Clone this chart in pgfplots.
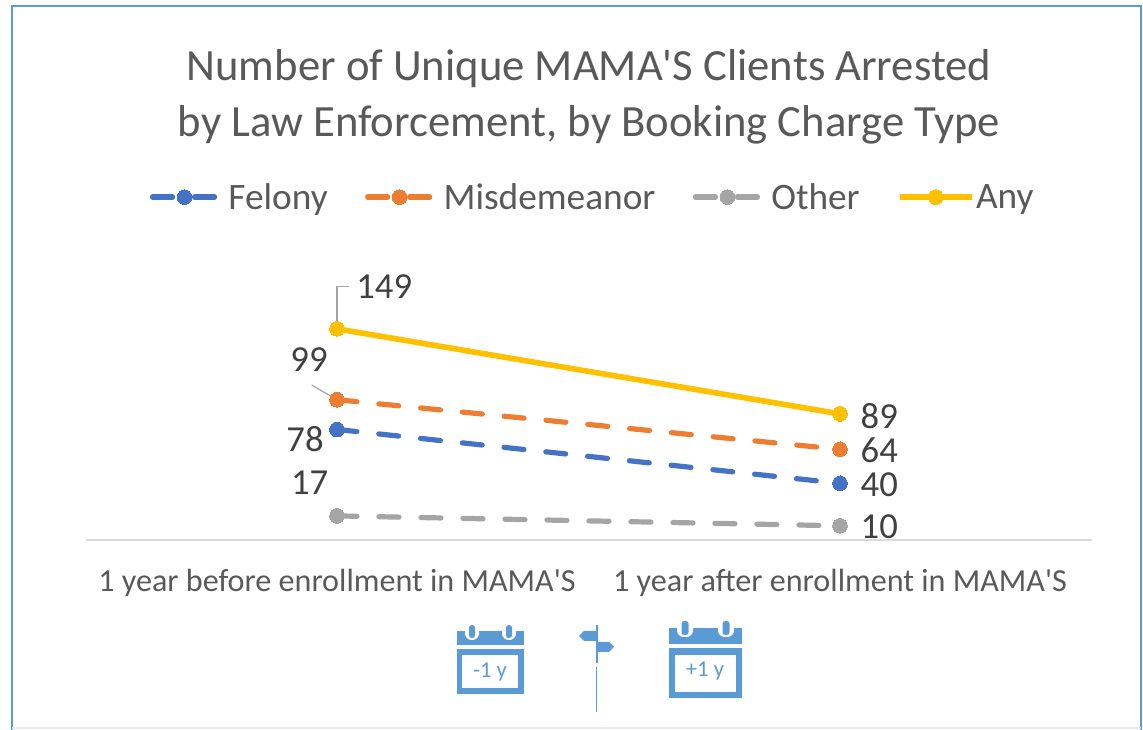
\documentclass[border=0pt]{standalone}
\usepackage{fontspec}
\setmainfont{Carlito}[Ligatures=TeXOff]
\usepackage{pgfplots}
\pgfplotsset{compat=1.18}
\definecolor{felony}{RGB}{68,114,196}
\definecolor{misd}{RGB}{237,125,49}
\definecolor{other}{RGB}{165,165,165}
\definecolor{anyc}{RGB}{255,192,0}
\definecolor{framec}{RGB}{91,155,213}
\definecolor{titlec}{RGB}{89,89,89}
\definecolor{labelc}{RGB}{64,64,64}
\pgfplotstableread{
x felony misd other any
0 78 99 17 149
1 40 64 10 89
}\mamatable
\pgfplotsset{
  dashline/.style={line width=3.9pt, line cap=round, dash pattern=on 15pt off 16.5pt},
  legend image code/.code={
    \draw[#1,mark=none] (0pt,0pt) -- (48pt,0pt);
    \draw[#1,solid] plot coordinates {(24pt,0pt)};
  },
  longimage/.style={
    legend image code/.code={
      \path (0pt,0pt) -- (48pt,0pt);
      \draw[##1,mark=none,overlay] (0pt,0pt) -- (54pt,0pt);
      \draw[##1,solid,overlay] plot coordinates {(27pt,0pt)};
    }
  }
}
\begin{document}
\begin{tikzpicture}[x=0.75pt,y=0.75pt]
\path[use as bounding box] (0,0) rectangle (1143,730);
\draw[framec,line width=2.2pt] (12,-10) -- (12,724) -- (1141,724) -- (1141,-10);
\draw[black!8,line width=0.8pt] (12,2) -- (1141,2);
\node[titlec,align=center,font=\fontsize{33.5pt}{41.5pt}\selectfont] at (589,633) {Number of Unique MAMA'S Clients Arrested\\by Law Enforcement, by Booking Charge Type};
\begin{axis}[
  at={(64.125pt,142.5pt)}, anchor=south west,
  scale only axis, width=754.5pt, height=212.55pt,
  xmin=-0.5, xmax=1.5, ymin=0, ymax=200,
  axis x line=bottom, axis y line=none,
  axis line style={draw=black!15,line width=0.9pt,-},
  xtick={0,1}, xticklabels={1 year before enrollment in MAMA'S,1 year after enrollment in MAMA'S},
  major tick length=0pt,
  xticklabel style={text=titlec,font=\fontsize{24.1pt}{28pt}\selectfont,yshift=-18.5pt},
  clip=false,
  legend columns=-1,
  legend style={at={(0.5045,1.21)},anchor=center,draw=none,fill=none,text=titlec,
    font=\fontsize{28pt}{32pt}\selectfont,
    /tikz/every even column/.append style={column sep=26pt},
    /tikz/every odd column/.append style={column sep=5pt}},
  mark size=5.5pt,
]
\draw[other,line width=0.9pt] (axis cs:0,149) -- ++(0pt,32pt) -- ++(9pt,0pt);
\draw[other,line width=0.9pt] (axis cs:0,99) -- ++(-19pt,11pt);
\addplot[felony,dashline,mark=*,mark options={solid,fill=felony,draw=felony,line width=0pt}] table[x=x,y=felony] {\mamatable};
\addlegendentry{Felony}
\addplot[misd,dashline,mark=*,mark options={solid,fill=misd,draw=misd,line width=0pt}] table[x=x,y=misd] {\mamatable};
\addlegendentry{Misdemeanor}
\addplot[other,dashline,mark=*,mark options={solid,fill=other,draw=other,line width=0pt}] table[x=x,y=other] {\mamatable};
\addlegendentry{Other}
\addplot[anyc,line width=4.2pt,mark=*,mark options={solid,fill=anyc,draw=anyc,line width=0pt},longimage] table[x=x,y=any] {\mamatable};
\addlegendentry{Any}
\begin{scope}[font=\fontsize{27.5pt}{32pt}\selectfont,text=labelc]
\node[anchor=west] at (axis cs:0,149) [yshift=32pt,xshift=11pt] {149};
\node[anchor=east] at (axis cs:0,99) [yshift=30pt,xshift=-3.5pt] {99};
\node[anchor=east] at (axis cs:0,78) [yshift=-7pt,xshift=-6.5pt] {78};
\node[anchor=east] at (axis cs:0,17) [yshift=25pt,xshift=-3pt] {17};
\node[anchor=west] at (axis cs:1,89) [yshift=-2pt,xshift=12pt] {89};
\node[anchor=west] at (axis cs:1,64) [yshift=-1pt,xshift=12pt] {64};
\node[anchor=west] at (axis cs:1,40) [yshift=-1pt,xshift=12pt] {40};
\node[anchor=west] at (axis cs:1,10) [yshift=-1pt,xshift=12pt] {10};
\end{scope}
\end{axis}
% icons
\begin{scope}[shift={(0,730)},y=-0.75pt]
\fill[framec] (457,631) rectangle (524,645);
\fill[framec] (457,649) rectangle (524,694);
\fill[white] (462,655) rectangle (518,688);
\foreach \cx in {472,509}{
  \fill[white,rounded corners=5pt] (\cx-7,623) rectangle (\cx+7,640);
  \fill[framec,rounded corners=2pt] (\cx-3,625) rectangle (\cx+3,638);
}
\node[framec,font=\fontsize{17pt}{18pt}\selectfont] at (490,672) {-1 y};
\fill[framec] (669,628) rectangle (742,644);
\fill[framec] (669,648) rectangle (742,698);
\fill[white] (675,655) rectangle (736,692);
\foreach \cx in {685,726}{
  \fill[white,rounded corners=5pt] (\cx-8,619) rectangle (\cx+8,637);
  \fill[framec,rounded corners=2pt] (\cx-3.5,621) rectangle (\cx+3.5,635);
}
\node[framec,font=\fontsize{17pt}{18pt}\selectfont] at (705,671) {+1 y};
\fill[framec] (595.5,625) rectangle (598,663);
\fill[framec] (596,631) -- (584,631) -- (579,636) -- (584,641) -- (596,641) -- cycle;
\fill[framec] (597,642) -- (609,642) -- (614,647) -- (609,652) -- (597,652) -- cycle;
\draw[framec,line width=0.8pt] (596.7,667) -- (596.7,712);
\end{scope}
\end{tikzpicture}
\end{document}
